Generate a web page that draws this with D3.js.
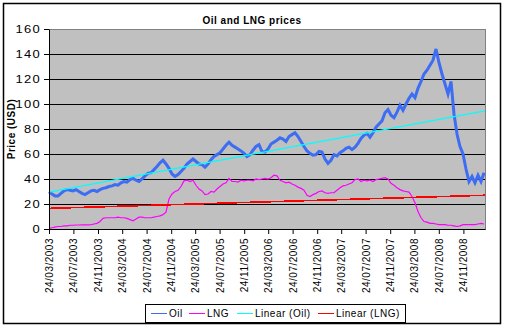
<!DOCTYPE html>
<html>
<head>
<meta charset="utf-8">
<script src="https://cdn.jsdelivr.net/npm/d3@7"></script>
<style>
body { margin: 0; background: #fff; }
text { font-family: Arial, "Liberation Sans", sans-serif; }
</style>
</head>
<body>
<div id="chart"></div>
<script>
// series start date and spacing between samples (days)
var startDate = "24/03/2003";
var axisEndDate = "12/03/2009";
var stepDays = 15;

// x axis tick labels (every 4 months)
var xTickLabels = [
	"24/03/2003", "24/07/2003", "24/11/2003", "24/03/2004", "24/07/2004", "24/11/2004",
	"24/03/2005", "24/07/2005", "24/11/2005", "24/03/2006", "24/07/2006", "24/11/2006",
	"24/03/2007", "24/07/2007", "24/11/2007", "24/03/2008", "24/07/2008", "24/11/2008"
];

var yTicks = [0, 20, 40, 60, 80, 100, 120, 140, 160];

// oil price (USD), one value per sample
var oilPrices = [
	29.7, 28, 26.5, 26.5, 28.5, 30.5, 31.5, 31, 30.5, 31.5,
	30, 28.5, 27.5, 29, 30.5, 31, 30, 31.5, 32.5, 33,
	34, 34.5, 35.5, 35, 37, 38, 37.5, 39.5, 40.5, 39,
	38, 40, 42.5, 44.5, 45, 47.5, 50, 53, 55, 52,
	48.5, 44, 42, 43.5, 46, 48.5, 52, 54, 56, 54,
	52, 51.5, 49.5, 52, 55.5, 58, 59.5, 61, 64, 67,
	69.5, 67, 65.5, 64, 62.5, 60.5, 58, 59.5, 63, 66,
	67.5, 62, 61.5, 64, 68, 69.5, 71, 73, 72, 70,
	74, 75.5, 77, 74, 70, 66, 62.5, 60.5, 59, 59.5,
	62, 61.5, 56, 52.5, 55, 59.5, 58.5, 61, 62.5, 64.5,
	65.5, 63.5, 65.5, 68.5, 72.5, 75, 76.5, 73.5, 77, 81.5,
	84, 86.5, 93, 95.5, 91, 89, 93.5, 99, 95, 100,
	104.5, 108, 105, 112.5, 118, 124, 127, 131, 135, 144,
	133, 124, 116, 108, 118, 92, 76, 66, 60, 48,
	38, 42, 37, 43, 38, 45
];

// LNG price (USD)
var lngPrices = [
	0.5, 1, 1.5, 2, 2, 2.5, 2.5, 3, 3, 3.2,
	3.2, 3.3, 3.3, 3.3, 3.4, 4, 4.5, 6, 8.5, 9,
	9, 9, 9, 9.5, 9, 9, 8.5, 7.5, 6.5, 8,
	9.5, 9.5, 9, 9, 9, 9.5, 10, 10.5, 11.5, 13.5,
	24, 28, 30, 31, 34, 38.5, 39, 38, 39, 35,
	32, 30.5, 27.5, 28, 30, 29.5, 32, 34, 36, 37,
	40.5, 38, 38, 37.5, 39, 38.5, 39, 39, 38.5, 40,
	39.5, 40, 40.5, 40, 41, 43, 42.5, 39, 38, 37,
	37.5, 36, 35, 33.5, 32.5, 31, 27, 26, 27.5, 28.5,
	30, 30.5, 29, 28.5, 29, 29, 31, 33, 34.5, 35,
	36, 37, 39.5, 40, 38, 39, 38.5, 39, 38, 39.5,
	40, 40.5, 41, 40, 36.5, 35, 33, 31.5, 30.5, 30,
	29.5, 26, 21, 14, 9, 6, 5.5, 4.5, 4.5, 4,
	3.5, 3.5, 3.5, 3, 3, 2.5, 2, 2.5, 3.5, 3.5,
	3.5, 3.5, 3.5, 4, 4.5, 4
];

// linear trend values at the start and end of the axis
var oilTrend = [29.5, 94.5];
var lngTrend = [16.5, 27];

var seriesNames = ["Oil", "LNG", "Linear (Oil)", "Linear (LNG)"];
var seriesColors = ["#3d6df2", "#ff00ff", "#00ffff", "#ff0000"];

var parseDate = d3.timeParse("%d/%m/%Y");
var formatDate = d3.timeFormat("%d/%m/%Y");

var width = 507, height = 331;
var plot = {left: 49, top: 29, width: 436, height: 200};

var svg = d3.select("#chart").append("svg")
	.attr("width", width)
	.attr("height", height);

// outer chart border
svg.append("rect")
	.attr("x", 3.5).attr("y", 3.5)
	.attr("width", 497).attr("height", 320)
	.attr("fill", "#fff")
	.attr("stroke", "#000")
	.attr("stroke-width", 1.5);

// title
svg.append("text")
	.attr("x", 252).attr("y", 23.5)
	.attr("text-anchor", "middle")
	.attr("font-size", "10px")
	.attr("font-weight", "bold")
	.attr("letter-spacing", "0.5px")
	.text("Oil and LNG prices");

// y axis title
svg.append("text")
	.attr("transform", "translate(11," + (plot.top + plot.height / 2) + ") rotate(-90)")
	.attr("text-anchor", "middle")
	.attr("dy", "0.35em")
	.attr("font-size", "10px")
	.attr("font-weight", "bold")
	.attr("letter-spacing", "0.5px")
	.text("Price (USD)");

var start = parseDate(startDate);
var oilData = oilPrices.map(function (v, i) { return {date: d3.timeDay.offset(start, i * stepDays), value: v}; });
var lngData = lngPrices.map(function (v, i) { return {date: d3.timeDay.offset(start, i * stepDays), value: v}; });
var xDomain = [start, parseDate(axisEndDate)];

var x = d3.scaleTime().domain(xDomain).range([0, plot.width]);
var y = d3.scaleLinear().domain([0, 160]).range([plot.height, 0]);

var g = svg.append("g")
	.attr("transform", "translate(" + plot.left + "," + plot.top + ")");

// plot background
g.append("rect")
	.attr("x", 0.5).attr("y", 0.5)
	.attr("width", plot.width).attr("height", plot.height)
	.attr("fill", "#c0c0c0")
	.attr("stroke", "#808080");

// horizontal gridlines
var grid = g.append("g")
	.call(d3.axisLeft(y)
		.tickValues(yTicks.filter(function (v) { return v > 0 && v < 160; }))
		.tickSize(-plot.width)
		.tickFormat(""));
grid.select(".domain").remove();
grid.selectAll("line").attr("stroke", "#000");

var line = d3.line()
	.x(function (d) { return x(d.date); })
	.y(function (d) { return y(d.value); });

g.append("path")
	.datum(oilData)
	.attr("fill", "none")
	.attr("stroke", seriesColors[0])
	.attr("stroke-width", 3)
	.attr("d", line);

g.append("path")
	.datum(lngData)
	.attr("fill", "none")
	.attr("stroke", seriesColors[1])
	.attr("stroke-width", 1.2)
	.attr("d", line);

// trend lines
g.append("path")
	.datum([{date: xDomain[0], value: oilTrend[0]}, {date: xDomain[1], value: oilTrend[1]}])
	.attr("fill", "none")
	.attr("stroke", seriesColors[2])
	.attr("stroke-width", 1.5)
	.attr("d", line);

g.append("path")
	.datum([{date: xDomain[0], value: lngTrend[0]}, {date: xDomain[1], value: lngTrend[1]}])
	.attr("fill", "none")
	.attr("stroke", seriesColors[3])
	.attr("stroke-width", 1.6)
	.attr("shape-rendering", "crispEdges")
	.attr("d", line);

// y axis
var yAxisG = g.append("g")
	.call(d3.axisLeft(y).tickValues(yTicks).tickSize(5).tickSizeOuter(0));
yAxisG.selectAll("text")
	.attr("x", 0)
	.attr("fill", "#000")
	.attr("font-size", "10px")
	.attr("font-family", "Arial, 'Liberation Sans', sans-serif")
	.attr("letter-spacing", "1px")
	.attr("transform", "translate(-8,0) scale(1.3,1)");
yAxisG.selectAll("line, path").attr("stroke", "#000");

// x axis
var xAxisG = g.append("g")
	.attr("transform", "translate(0," + plot.height + ")")
	.call(d3.axisBottom(x)
		.tickValues(xTickLabels.map(parseDate))
		.tickFormat(formatDate)
		.tickSize(5)
		.tickSizeOuter(0));
xAxisG.selectAll("line, path").attr("stroke", "#000");
xAxisG.selectAll("text")
	.attr("transform", "rotate(-90)")
	.attr("text-anchor", "end")
	.attr("x", -9)
	.attr("y", 0)
	.attr("dy", "0.35em")
	.attr("fill", "#000")
	.attr("font-size", "10px")
	.attr("font-family", "Arial, 'Liberation Sans', sans-serif")
	.attr("letter-spacing", "0.5px");

// legend
var legend = svg.append("g");
legend.append("rect")
	.attr("x", 145.5).attr("y", 304.5)
	.attr("width", 260).attr("height", 18)
	.attr("fill", "#fff")
	.attr("stroke", "#000");

var legendX = [151, 189, 237, 318];
var items = legend.selectAll(".item")
	.data(seriesNames)
	.enter().append("g")
	.attr("class", "item")
	.attr("transform", function (d, i) { return "translate(" + legendX[i] + ",313.5)"; });
items.append("line")
	.attr("x1", 0).attr("x2", 16)
	.attr("stroke", function (d, i) { return seriesColors[i]; });
items.append("text")
	.attr("x", 18)
	.attr("dy", "0.35em")
	.attr("font-size", "10px")
	.attr("letter-spacing", "0.5px")
	.text(function (d) { return d; });
</script>
</body>
</html>
